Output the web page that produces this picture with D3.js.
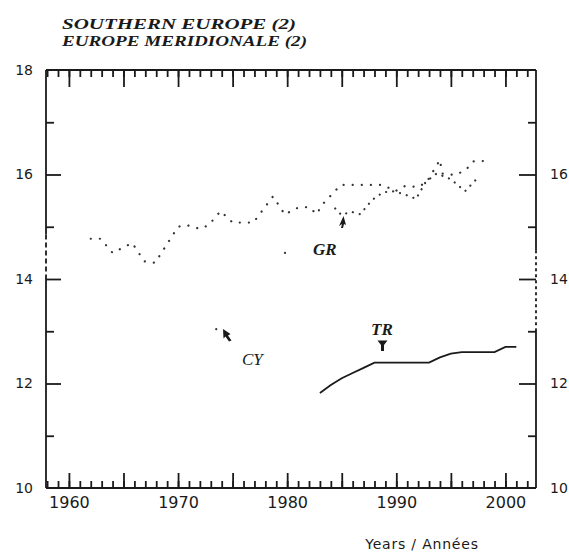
<!DOCTYPE html>
<html><head><meta charset="utf-8">
<script src="https://cdn.jsdelivr.net/npm/d3@7"></script>
<style>body{margin:0;background:#fff}svg{display:block}</style>
</head><body>
<svg id="c" width="569" height="552"></svg>
<script>
// ---- data ----
const titleLines = ["SOUTHERN EUROPE (2)", "EUROPE MERIDIONALE (2)"];
const xLabel = "Years / Années";
const xTickLabels = [1960, 1970, 1980, 1990, 2000];
const yTickLabelsLeft = [10, 12, 14, 16, 18];
const yTickLabelsRight = [10, 12, 14, 16];

// upper dotted series
const seriesAYears  = [1962.0,1962.9,1964.0,1965.8,1966.9,1967.9,1970.0,1970.8,1972.0,1972.8,1973.9,1975.0,1976.9,1978.7,1979.8,1980.7,1982.0,1982.7,1983.2,1984.9,1986.2,1988.8,1989.9,1990.8,1992.0,1992.8,1994.0,1994.2,1995.4,1996.4,1997.0,1998.2];
const seriesAValues = [14.77,14.77,14.50,14.69,14.34,14.31,15.00,15.03,14.96,15.03,15.30,15.08,15.08,15.58,15.23,15.35,15.38,15.24,15.42,15.80,15.80,15.80,15.68,15.78,15.76,15.86,16.28,16.02,15.99,16.09,16.25,16.26];

// GR dotted series (isolated 1980 point, then 1984 onwards)
const grSingleYear = 1979.8, grSingleValue = 14.50;
const grYears  = [1984.4,1985.0,1985.8,1986.7,1987.4,1987.9,1988.8,1989.8,1991.3,1991.8,1992.7,1993.7,1995.0,1996.3,1997.2,1997.6];
const grValues = [15.35,15.22,15.29,15.24,15.42,15.53,15.66,15.68,15.58,15.53,15.86,16.02,15.91,15.68,15.88,15.96];

// CY single point
const cyYear = 1973.5, cyValue = 13.04;

// TR solid series
const trYears  = [1983,1984,1985,1986,1987,1988,1989,1990,1991,1992,1993,1994,1995,1996,1997,1998,1999,2000,2001];
const trValues = [11.82,11.97,12.10,12.20,12.30,12.40,12.40,12.40,12.40,12.40,12.40,12.50,12.57,12.60,12.60,12.60,12.60,12.70,12.70];

// ---- layout ----
const svg = d3.select("#c");
const L = 46, R = 536, T = 70, B = 488;
const x = d3.scaleLinear().domain([1957.9, 2002.8]).range([L, R]);
const y = d3.scaleLinear().domain([10, 18]).range([B, T]);
const ink = "#1a1a1a";

// title
const titleWidths = [234, 245];
svg.selectAll("text.title").data(titleLines).join("text").attr("class","title")
  .attr("x", 62).attr("y", (d,i) => 29 + i*17)
  .attr("font-family", "Liberation Serif, serif").attr("font-style","italic").attr("font-weight","bold")
  .attr("font-size", 15.5).attr("fill", ink)
  .attr("textLength", (d,i) => titleWidths[i]).attr("lengthAdjust","spacingAndGlyphs")
  .text(d => d);

// frame (with broken segments on side axes)
const g = svg.append("g").attr("stroke", ink).attr("fill","none").attr("stroke-width",1.8);
g.append("line").attr("x1",L).attr("x2",R).attr("y1",T).attr("y2",T);
g.append("line").attr("x1",L).attr("x2",R).attr("y1",B).attr("y2",B);
g.append("line").attr("x1",L).attr("x2",L).attr("y1",T).attr("y2",y(14.85));
g.append("line").attr("x1",L).attr("x2",L).attr("y1",y(14.85)).attr("y2",y(14)).attr("stroke-dasharray","5,3");
g.append("line").attr("x1",L).attr("x2",L).attr("y1",y(14)).attr("y2",B);
g.append("line").attr("x1",R).attr("x2",R).attr("y1",T).attr("y2",y(14.55));
g.append("line").attr("x1",R).attr("x2",R).attr("y1",y(14.55)).attr("y2",y(13.05)).attr("stroke-dasharray","3,3");
g.append("line").attr("x1",R).attr("x2",R).attr("y1",y(13.05)).attr("y2",B);

const years = d3.range(1958, 2003);
const fives = years.filter(d => d % 5 === 0);
function axisGroup(axis, tr){
  const a = svg.append("g").attr("transform", tr).call(axis);
  a.select(".domain").remove();
  a.selectAll("line").attr("stroke", ink).attr("stroke-width", 1.8);
  return a;
}
// bottom ticks
axisGroup(d3.axisBottom(x).tickValues(years).tickSize(-7).tickFormat(""), `translate(0,${B})`);
axisGroup(d3.axisBottom(x).tickValues(fives).tickSize(-15).tickFormat(""), `translate(0,${B})`);
const bl = axisGroup(d3.axisBottom(x).tickValues(xTickLabels).tickSize(0).tickPadding(9).tickFormat(d3.format("d")), `translate(0,${B})`);
bl.selectAll("text").attr("font-family","DejaVu Sans, sans-serif").attr("font-size",16).attr("fill",ink);
// top ticks
axisGroup(d3.axisTop(x).tickValues(years).tickSize(-7).tickFormat(""), `translate(0,${T})`);
axisGroup(d3.axisTop(x).tickValues(fives).tickSize(-17).tickFormat(""), `translate(0,${T})`);
// left
const yMinor = [11,13,15,17], yMajor = [12,14,16];
axisGroup(d3.axisLeft(y).tickValues(yMinor).tickSize(-8).tickFormat(""), `translate(${L},0)`);
axisGroup(d3.axisLeft(y).tickValues(yMajor).tickSize(-15).tickFormat(""), `translate(${L},0)`);
const ll = axisGroup(d3.axisLeft(y).tickValues(yTickLabelsLeft).tickSize(0).tickPadding(13).tickFormat(d3.format("d")), `translate(${L},0)`);
ll.selectAll("text").attr("font-family","DejaVu Sans, sans-serif").attr("font-size",14).attr("fill",ink);
// right
axisGroup(d3.axisRight(y).tickValues(yMinor).tickSize(-8).tickFormat(""), `translate(${R},0)`);
axisGroup(d3.axisRight(y).tickValues(yMajor).tickSize(-17).tickFormat(""), `translate(${R},0)`);
const rl = axisGroup(d3.axisRight(y).tickValues(yTickLabelsRight).tickSize(0).tickPadding(14).tickFormat(d3.format("d")), `translate(${R},0)`);
rl.selectAll("text").attr("font-family","DejaVu Sans, sans-serif").attr("font-size",14).attr("fill",ink);

// x label
svg.append("text").attr("x", 422).attr("y", 549).attr("text-anchor","middle")
  .attr("font-family","DejaVu Sans, sans-serif").attr("font-size",14).attr("letter-spacing",0.8)
  .attr("fill",ink).text(xLabel);

// series
const line = d3.line().x(d => x(d[0])).y(d => y(d[1]));
svg.append("path").datum(d3.zip(seriesAYears, seriesAValues)).attr("d", line)
  .attr("fill","none").attr("stroke","#333").attr("stroke-width",2.2)
  .attr("stroke-linecap","round").attr("stroke-dasharray","0.1,9");
svg.append("path").datum(d3.zip(grYears, grValues)).attr("d", line)
  .attr("fill","none").attr("stroke","#333").attr("stroke-width",2.2)
  .attr("stroke-linecap","round").attr("stroke-dasharray","0.1,7");
svg.append("circle").attr("cx", x(grSingleYear)).attr("cy", y(grSingleValue)).attr("r",1.1).attr("fill","#333");
svg.append("circle").attr("cx", x(cyYear)).attr("cy", y(cyValue)).attr("r",1.1).attr("fill","#333");
svg.append("path").datum(d3.zip(trYears, trValues)).attr("d", line)
  .attr("fill","none").attr("stroke",ink).attr("stroke-width",1.8);

// labels and arrows
const lab = (t, xx, yy, fs, w) => svg.append("text").attr("x",xx).attr("y",yy)
  .attr("font-family","Liberation Serif, serif").attr("font-style","italic").attr("font-weight",w)
  .attr("font-size",fs).attr("fill",ink).text(t);
lab("GR", 313, 255, 17, "bold");
lab("TR", 371, 335, 17, "bold");
lab("CY", 242, 365, 17, "normal");

// GR arrow (tip up)
svg.append("path").attr("d","M343.5,216 L339,226 L342,224 L341,228 L343,228 L344,224 L346,225 Z").attr("fill",ink);
// TR arrow (Y shape pointing down)
svg.append("path").attr("d","M377.5,340.5 L387.5,340.5 L384,345 L384,351 L381,351 L381,345 Z").attr("fill",ink);
// CY arrow (tip up-left)
svg.append("path").attr("d","M223,329 L230.5,334 L228,335.5 L231.5,340.5 L229,341.5 L225.5,336.5 L223.5,338.5 Z").attr("fill",ink);
</script>
</body></html>
